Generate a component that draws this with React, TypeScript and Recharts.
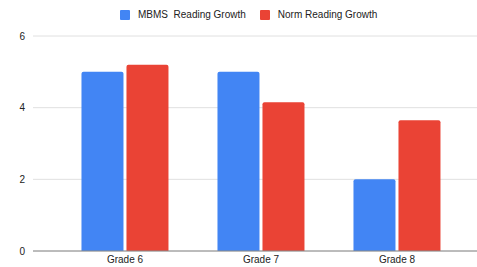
import React from 'react';
import { BarChart, Bar, XAxis, YAxis, CartesianGrid } from 'recharts';

const categories = ['Grade 6', 'Grade 7', 'Grade 8'];
const mbmsGrowth = [5.0, 5.0, 2.0];
const normGrowth = [5.2, 4.15, 3.65];
const yTicks = [0, 2, 4, 6];
const seriesNames = ['MBMS  Reading Growth', 'Norm Reading Growth'];
const colors = ['#4285F4', '#EA4335'];

const data = categories.map((c, i) => ({ name: c, mbms: mbmsGrowth[i], norm: normGrowth[i] }));

const font = 'Arial, "Liberation Sans", sans-serif';

const LegendBox = () => (
  <div style={{ position: 'absolute', left: 120, top: 9, display: 'flex', alignItems: 'center', fontFamily: font, fontSize: 10, color: '#222', lineHeight: '12px' }}>
    {seriesNames.map((n, i) => (
      <div key={n} style={{ display: 'flex', alignItems: 'center', marginRight: 14 }}>
        <span style={{ width: 10, height: 10, background: colors[i], display: 'inline-block', marginRight: 8, borderRadius: 1 }} />
        <span style={{ whiteSpace: 'pre' }}>{n}</span>
      </div>
    ))}
  </div>
);

export default function App() {
  return (
    <div style={{ position: 'absolute', left: 0, top: 0, width: 477, height: 267, background: '#fff' }}>
      <BarChart width={477} height={267} data={data} margin={{ top: 36, right: 0, left: 0, bottom: 0 }} barCategoryGap="18%" barGap={3}>
        <CartesianGrid vertical={false} stroke="#e0e0e0" />
        <XAxis
          dataKey="name"
          height={16}
          tickLine={false}
          tickSize={3}
          axisLine={{ stroke: '#888' }}
          padding={{ left: 24, right: 12 }}
          tick={{ fontSize: 10, fill: '#222', fontFamily: font }}
        />
        <YAxis
          width={33}
          domain={[0, 6]}
          ticks={yTicks}
          tickLine={false}
          axisLine={false}
          tick={{ fontSize: 10, fill: '#222', fontFamily: font }}
        />
        <Bar dataKey="mbms" name={seriesNames[0]} fill={colors[0]} radius={[2, 2, 0, 0]} isAnimationActive={false} />
        <Bar dataKey="norm" name={seriesNames[1]} fill={colors[1]} radius={[2, 2, 0, 0]} isAnimationActive={false} />
      </BarChart>
      <LegendBox />
    </div>
  );
}
